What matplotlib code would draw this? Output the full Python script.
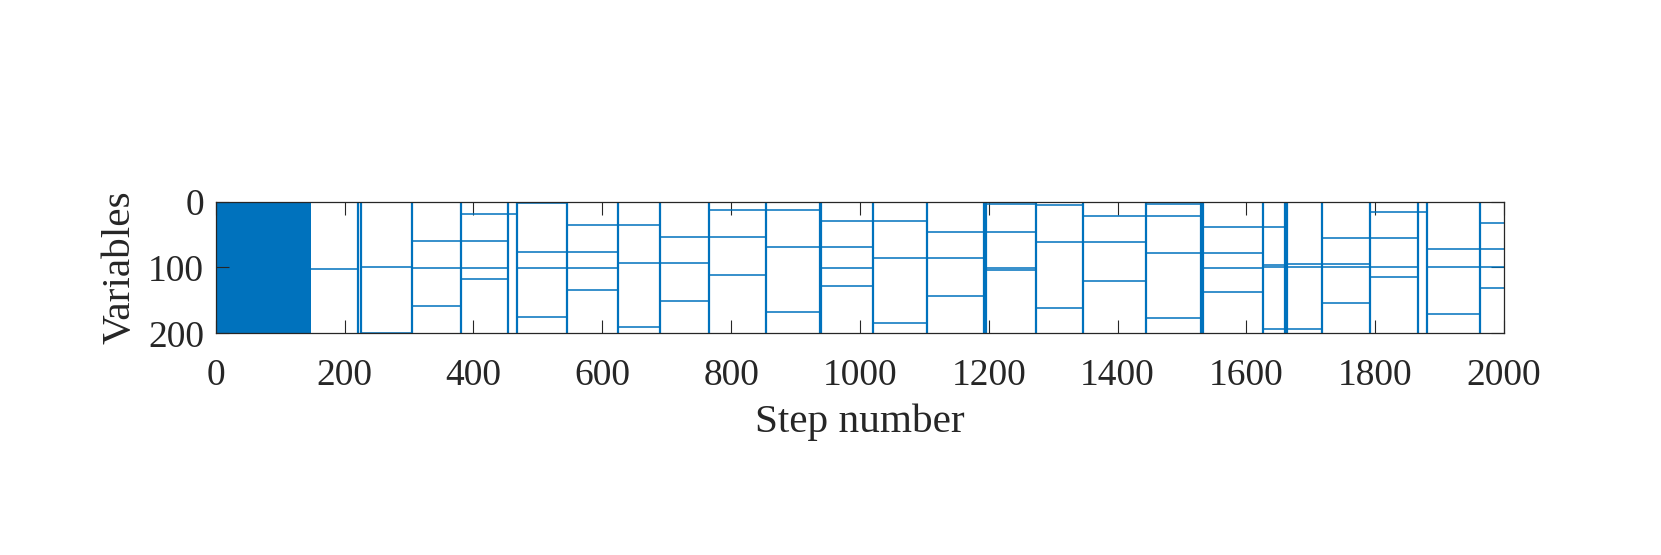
import matplotlib
matplotlib.use("Agg")
import matplotlib.pyplot as plt

# Sparsity pattern (steps x variables)
n_steps = 2000
n_vars = 200
dense_end = 148  # first steps: every variable active

# steps where every variable is active (full columns)
full_cols = [221, 225, 304, 380, 454, 468, 545, 624, 689, 766, 854, 938, 940,
             1021, 1104, 1192, 1195, 1273, 1347, 1444, 1529, 1532, 1626, 1660,
             1663, 1717, 1792, 1867, 1881, 1962]

# active variables between two consecutive full columns
block_rows = [
    [102],                 # 148-221
    [],                    # 221-225
    [1, 100, 199],         # 225-304
    [59, 101, 158],        # 304-380
    [19, 60, 101, 118],    # 380-454
    [19],                  # 454-468
    [2, 76, 101, 175],     # 468-545
    [35, 76, 101, 134],    # 545-624
    [35, 93, 191],         # 624-689
    [53, 93, 151],         # 689-766
    [13, 53, 111],         # 766-854
    [13, 69, 168],         # 854-938
    [],                    # 938-940
    [29, 69, 101, 128],    # 940-1021
    [29, 86, 185],         # 1021-1104
    [46, 86, 144],         # 1104-1192
    [],                    # 1192-1195
    [3, 46, 101, 104],     # 1195-1273
    [5, 62, 161],          # 1273-1347
    [22, 62, 120],         # 1347-1444
    [3, 22, 78, 177],      # 1444-1529
    [],                    # 1529-1532
    [39, 78, 101, 138],    # 1532-1626
    [39, 96, 100, 194],    # 1626-1660
    [],                    # 1660-1663
    [95, 100, 194],        # 1663-1717
    [55, 95, 100, 154],    # 1717-1792
    [1, 16, 55, 100, 114], # 1792-1867
    [16],                  # 1867-1881
    [72, 100, 171],        # 1881-1962
    [32, 72, 100, 131],    # 1962-2000
]

x_ticks = list(range(0, 2001, 200))
y_ticks = [0, 100, 200]

blue = '#0072BD'
dark = '#262626'

plt.rcParams['font.family'] = ['Liberation Serif', 'DejaVu Serif']
plt.rcParams['font.size'] = 27

fig = plt.figure(figsize=(16.61, 5.55), dpi=100)
ax = fig.add_axes([0.1299, 0.3995, 0.7756, 0.2371])

# dense start
ax.axvspan(0, dense_end, color=blue, lw=0)

# full columns
ax.vlines(full_cols, 0, n_vars, color=blue, lw=1.6)

# row segments inside each block
edges = [dense_end] + full_cols + [n_steps]
for i, rows in enumerate(block_rows):
    if rows:
        ax.hlines(rows, edges[i], edges[i + 1], color=blue, lw=1.1)

ax.set_xlim(0, n_steps)
ax.set_ylim(n_vars, 0)
ax.set_xticks(x_ticks)
ax.set_yticks(y_ticks)
ax.tick_params(direction='in', length=9.6, width=0.8, color=dark, labelcolor=dark,
               top=True, right=True)
ax.tick_params(axis='x', pad=18.5)
ax.tick_params(axis='y', pad=8.5)
for s in ax.spines.values():
    s.set_color(dark)
    s.set_linewidth(0.9)

ax.set_xlabel('Step number', color=dark, fontsize=29.7, labelpad=7)
ax.set_ylabel('Variables', color=dark, fontsize=29.7, labelpad=7)

fig.savefig('out.png', dpi=100)
